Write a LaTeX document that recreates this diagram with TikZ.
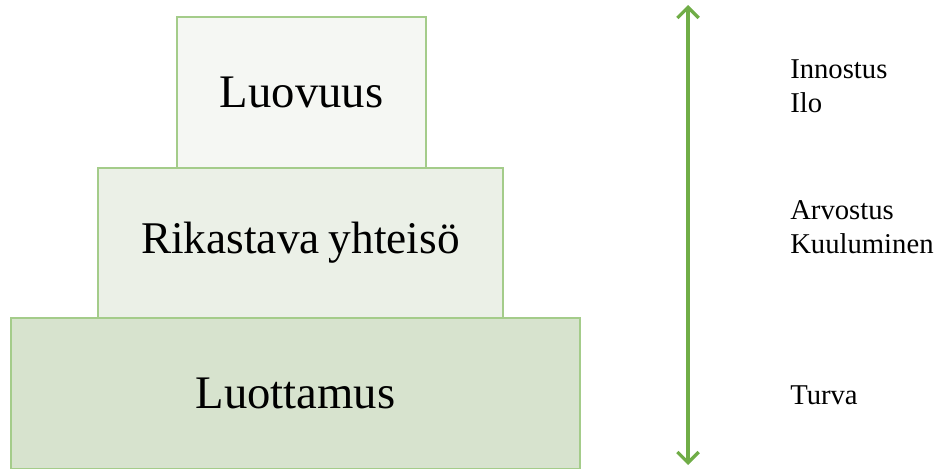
\documentclass[tikz,border=0pt]{standalone}
\usepackage{fontspec}
\setmainfont{Liberation Serif}
\usetikzlibrary{arrows.meta}
\definecolor{boxline}{HTML}{A4CC8A}
\definecolor{fillA}{HTML}{F5F7F3}
\definecolor{fillB}{HTML}{EBF0E7}
\definecolor{fillC}{HTML}{D7E3CE}
\definecolor{arrowgreen}{HTML}{70AD47}
\tikzset{
	level/.style={draw=boxline, line width=0.9pt, inner sep=0pt, font=\fontsize{35}{40}\selectfont},
	side/.style={anchor=west, align=left, inner sep=0pt, font=\fontsize{21.5}{25.5}\selectfont}
}

\begin{document}
\begin{tikzpicture}[x=0.75pt, y=-0.75pt]
			%%%%% START %%%%%
			
			\useasboundingbox (0, 0) rectangle (939, 468);
			
			\node[level, fill=fillC, minimum width=569*0.75pt, minimum height=151*0.75pt] (luottamus) at (295.5, 393.5) {Luottamus};
			\node[level, fill=fillB, minimum width=405*0.75pt, minimum height=150*0.75pt] (rikastava) at (300.5, 243) {\fontsize{34}{40}\selectfont Rikastava\hspace{0.2em}yhteisö};
			\node[level, fill=fillA, minimum width=249*0.75pt, minimum height=151*0.75pt] (luovuus) at (301.5, 92.5) {Luovuus};
			
			\coordinate (yla) at (688, 5);
			\coordinate (ala) at (688, 465);
			\draw[arrowgreen, line width=2.4pt, {Straight Barb[length=8pt, width=16pt]}-{Straight Barb[length=8pt, width=16pt]}] (yla) -- (ala);
			
			\node[side] (innostus) at (790, 86.5) {Innostus\\Ilo};
			\node[side] (arvostus) at (790, 227) {Arvostus\\Kuuluminen};
			\node[side] (turva) at (790, 395) {Turva};
			
			%%%%% END %%%%%
		\end{tikzpicture}
\end{document}
